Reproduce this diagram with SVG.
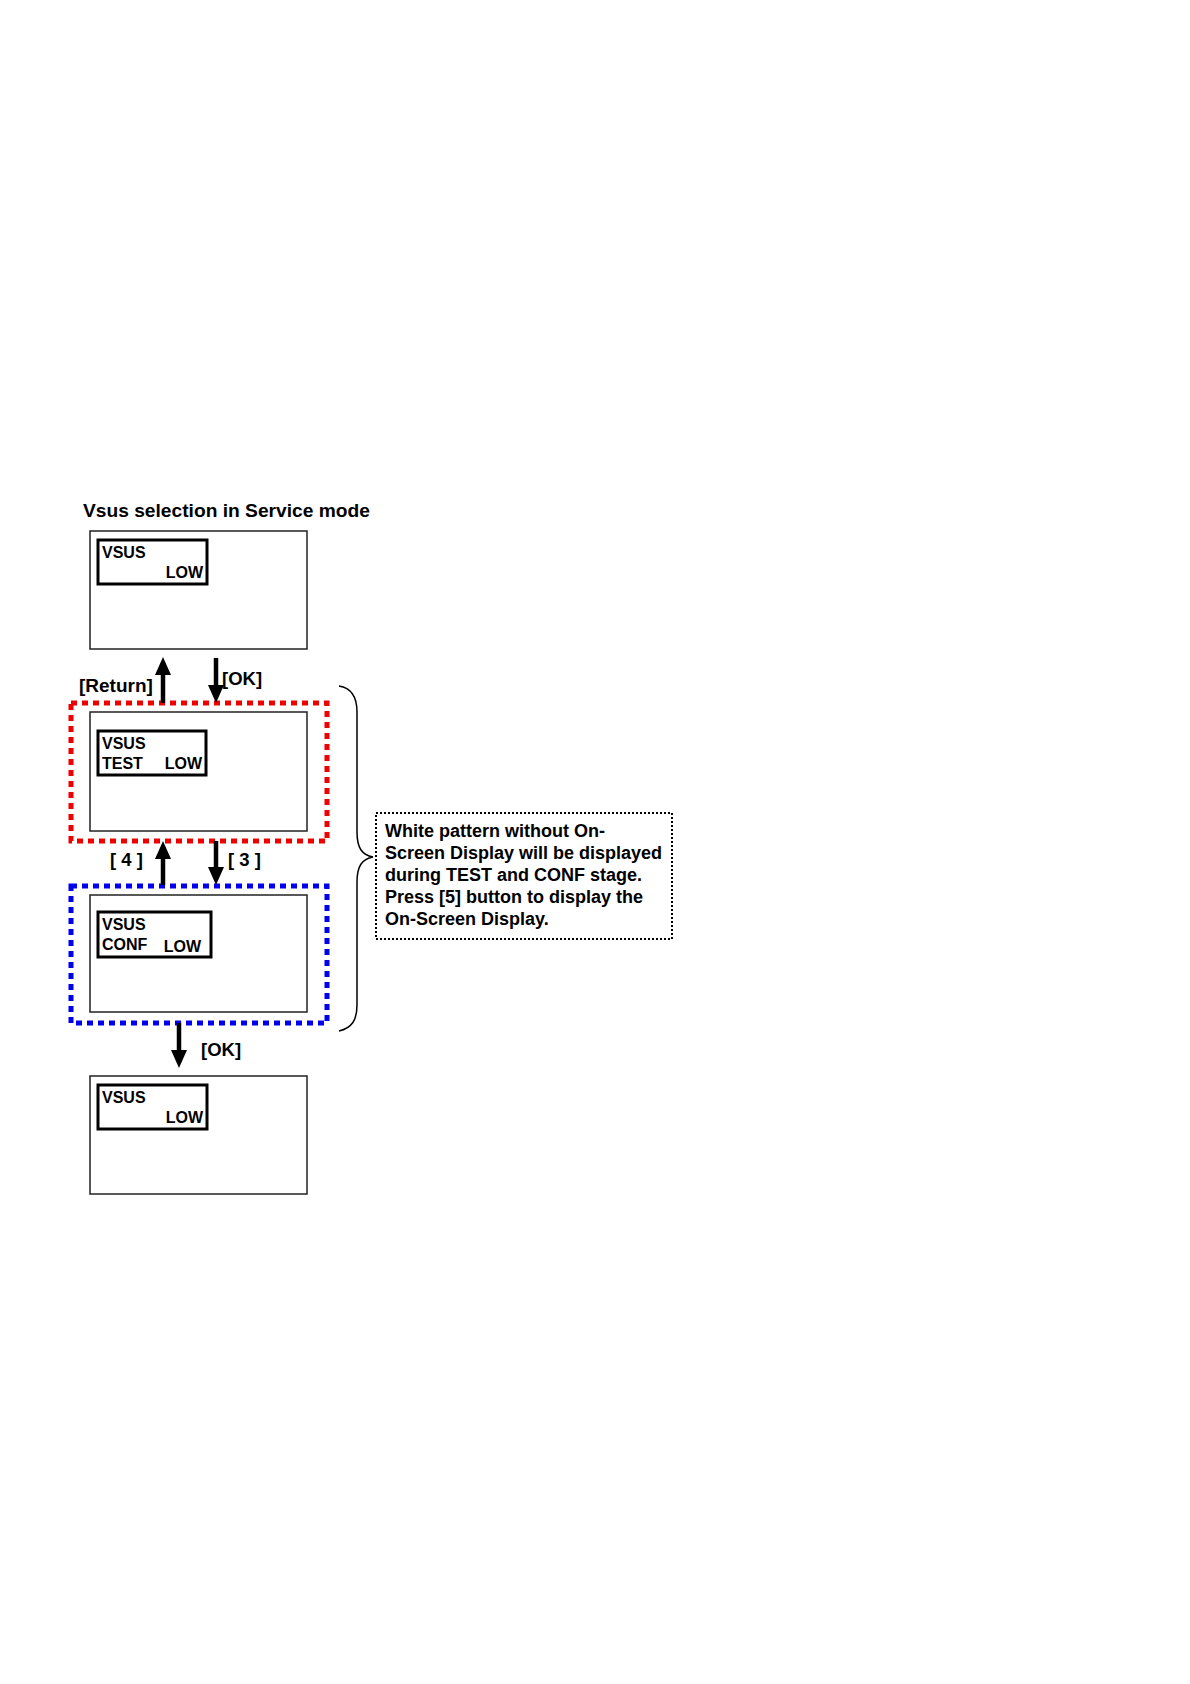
<svg xmlns="http://www.w3.org/2000/svg" width="1190" height="1684" viewBox="0 0 1190 1684">
<style>
text{font-family:"Liberation Sans",Arial,sans-serif;font-weight:bold;fill:#000}
.title{font-size:19.2px}
.lcd{font-size:16px}
.lbl{font-size:18.5px}
.note{font-size:18px}
.screen{fill:#fff;stroke:#222;stroke-width:1.5}
.inner{fill:#fff;stroke:#000;stroke-width:3}
.shaft{stroke:#000;stroke-width:4.5}
.head{fill:#000}
</style>
<rect width="1190" height="1684" fill="#fff"/>
<text class="title" x="83" y="517">Vsus selection in Service mode</text>

<g id="group-test">
<rect x="71" y="703" width="256" height="138" fill="none" stroke="#ee0000" stroke-width="5" stroke-dasharray="6 5"/>
</g>
<g id="group-conf">
<rect x="71" y="886" width="256" height="137" fill="none" stroke="#0000ee" stroke-width="5" stroke-dasharray="6 5"/>
</g>

<g id="screen-1">
<rect class="screen" x="90" y="531" width="217" height="118"/>
<rect class="inner" x="98" y="540" width="109" height="44"/>
<text class="lcd" x="102" y="558">VSUS</text>
<text class="lcd" x="203" y="578" text-anchor="end">LOW</text>
</g>

<g id="screen-test">
<rect class="screen" x="90" y="712" width="217" height="119"/>
<rect class="inner" x="98" y="731" width="108" height="44"/>
<text class="lcd" x="102" y="749">VSUS</text>
<text class="lcd" x="102" y="769">TEST</text>
<text class="lcd" x="202" y="769" text-anchor="end">LOW</text>
</g>

<g id="screen-conf">
<rect class="screen" x="90" y="895" width="217" height="117"/>
<rect class="inner" x="98" y="912" width="113" height="45"/>
<text class="lcd" x="102" y="930">VSUS</text>
<text class="lcd" x="102" y="950">CONF</text>
<text class="lcd" x="201" y="952" text-anchor="end">LOW</text>
</g>

<g id="screen-4">
<rect class="screen" x="90" y="1076" width="217" height="118"/>
<rect class="inner" x="98" y="1085" width="109" height="44"/>
<text class="lcd" x="102" y="1103">VSUS</text>
<text class="lcd" x="203" y="1123" text-anchor="end">LOW</text>
</g>

<g id="note">
<rect x="376" y="813" width="296" height="126" fill="none" stroke="#000" stroke-width="2" stroke-dasharray="2 2"/>
<text class="note" x="385" y="837">White pattern without On-</text>
<text class="note" x="385" y="859">Screen Display will be displayed</text>
<text class="note" x="385" y="881">during TEST and CONF stage.</text>
<text class="note" x="385" y="903">Press [5] button to display the</text>
<text class="note" x="385" y="925">On-Screen Display.</text>
</g>

<g id="connectors">
<line class="shaft" x1="163" y1="703" x2="163" y2="672"/>
<polygon class="head" points="163,657 155,675 171,675"/>
<line class="shaft" x1="216" y1="658" x2="216" y2="687"/>
<polygon class="head" points="216,703 208,685 224,685"/>
<line class="shaft" x1="163" y1="885" x2="163" y2="856"/>
<polygon class="head" points="163,841 155,859 171,859"/>
<line class="shaft" x1="216" y1="841" x2="216" y2="870"/>
<polygon class="head" points="216,885 208,867 224,867"/>
<line class="shaft" x1="179" y1="1023" x2="179" y2="1052"/>
<polygon class="head" points="179,1068 171,1050 187,1050"/>
<path d="M339,686 C352,688 357,698 357,712 L357,832 C357,848 362,855 373,857 C362,859 357,866 357,882 L357,1005 C357,1020 352,1028 339,1031" fill="none" stroke="#000" stroke-width="1.5"/>
</g>

<g id="labels">
<text class="lbl" x="79" y="692" style="font-size:19px">[Return]</text>
<text class="lbl" x="222" y="685">[OK]</text>
<text class="lbl" x="110" y="866">[ 4 ]</text>
<text class="lbl" x="228" y="866">[ 3 ]</text>
<text class="lbl" x="201" y="1056">[OK]</text>
</g>
</svg>
